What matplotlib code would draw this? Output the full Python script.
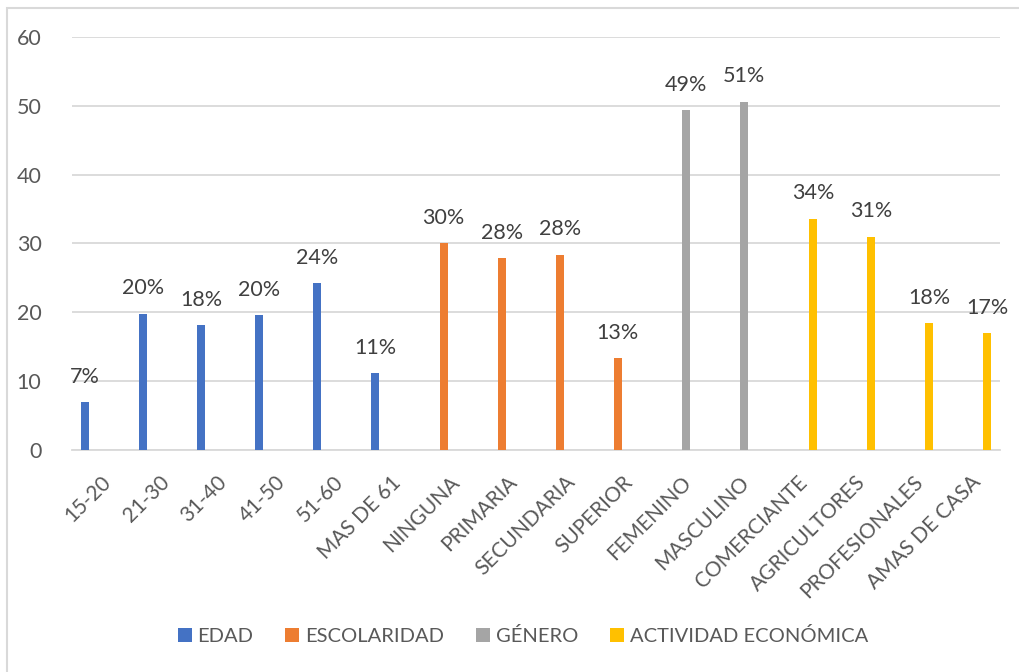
import matplotlib.pyplot as plt
import numpy as np
from matplotlib.patches import Rectangle

plt.rcParams['font.family'] = ['Lato', 'DejaVu Sans']

# --- Data ---
edad_cats = ['15-20', '21-30', '31-40', '41-50', '51-60', 'MAS DE 61']
edad_vals = [7.0, 19.8, 18.1, 19.6, 24.2, 11.2]

esc_cats = ['NINGUNA', 'PRIMARIA', 'SECUNDARIA', 'SUPERIOR']
esc_vals = [30.1, 27.9, 28.4, 13.3]

gen_cats = ['FEMENINO', 'MASCULINO']
gen_vals = [49.4, 50.6]

act_cats = ['COMERCIANTE', 'AGRICULTORES', 'PROFESIONALES', 'AMAS DE CASA']
act_vals = [33.6, 31.0, 18.4, 17.0]

series_names = ['EDAD', 'ESCOLARIDAD', 'GÉNERO', 'ACTIVIDAD ECONÓMICA']
series_colors = ['#4472C4', '#ED7D31', '#A5A5A5', '#FFC000']

categories = edad_cats + esc_cats + gen_cats + act_cats
groups = [(edad_cats, edad_vals), (esc_cats, esc_vals),
          (gen_cats, gen_vals), (act_cats, act_vals)]

text_grey = '#595959'
grid_grey = '#D9D9D9'

fig = plt.figure(figsize=(10.19, 6.72), dpi=100)
ax = fig.add_axes([0.0707, 0.3304, 0.9106, 0.6145])

# clustered layout: each series keeps its slot inside the category
step = 0.184
width = 0.14
for k, ((cats, vals), name, color) in enumerate(zip(groups, series_names, series_colors)):
    x = np.array([categories.index(c) for c in cats]) + (k - 1.5) * step
    ax.bar(x, vals, width=width, color=color, label=name, zorder=3)
    for xi, v in zip(x, vals):
        ax.annotate(f'{v:.0f}%', (xi, v), xytext=(0, 11), textcoords='offset points',
                    ha='center', va='bottom', fontsize=15.5, color='#404040')

ax.set_xlim(-0.5, len(categories) - 0.5)
ax.set_ylim(0, 60)
ax.set_yticks(range(0, 61, 10))
ax.set_xticks(range(len(categories)))
ax.set_xticklabels(categories, rotation=45, ha='right', rotation_mode='anchor')
ax.tick_params(axis='x', length=0, pad=16, labelsize=15, labelcolor=text_grey)
ax.tick_params(axis='y', length=0, pad=22, labelsize=15.5, labelcolor=text_grey)
ax.yaxis.grid(True, color=grid_grey, linewidth=1.3, zorder=0)
for side in ['top', 'right', 'left']:
    ax.spines[side].set_visible(False)
ax.spines['bottom'].set_color(grid_grey)
ax.spines['bottom'].set_linewidth(1.3)

fig.legend(loc='center', bbox_to_anchor=(0.513, 0.053), ncol=4, frameon=False,
           fontsize=14.5, labelcolor=text_grey, handlelength=0.7, handleheight=0.7,
           handletextpad=0.27, columnspacing=1.6)

# chart area border
fig.patches.append(Rectangle((0.0069, -0.1), 1.2, 1.088, transform=fig.transFigure,
                             fill=False, edgecolor=grid_grey, linewidth=1.5))

fig.savefig('out.png', dpi=100)
